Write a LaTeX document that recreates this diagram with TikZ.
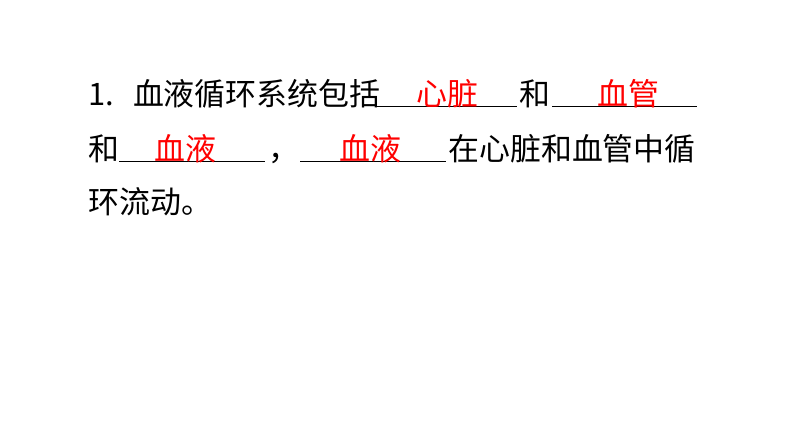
\documentclass[tikz,border=0pt]{standalone}
\usepackage{fontspec}
\newfontfamily\cjk{Noto Sans CJK SC}
\tikzset{
  txt/.style={anchor=base west, inner sep=0pt, font=\cjk\fontsize{22}{26}\selectfont},
  ans/.style={anchor=base, inner sep=0pt, text=red, font=\cjk\fontsize{22}{26}\selectfont},
  blank/.style={line width=0.6pt}
}
\begin{document}
\begin{tikzpicture}[x=0.025cm,y=-0.025cm]
\useasboundingbox[fill=white] (0,0) rectangle (794,447);
% line 1
\node[txt] (l1a) at (88,105) {1.\ \ \,血液循环系统包括};
\draw[blank] (377,106) coordinate (u1s) -- (517,106) coordinate (u1e);
\node[ans] (a1) at (447,105) {心脏};
\node[txt] (l1b) at (519,105) {和};
\draw[blank] (552,106) coordinate (u2s) -- (697,106) coordinate (u2e);
\node[ans] (a2) at (628,105) {血管};
% line 2
\node[txt] (l2a) at (88,160) {和};
\draw[blank] (119,161) coordinate (u3s) -- (265,161) coordinate (u3e);
\node[ans] (a3) at (185,160) {血液};
\node[txt] (l2b) at (268,160) {，};
\draw[blank] (300,161) coordinate (u4s) -- (446,161) coordinate (u4e);
\node[ans] (a4) at (370,160) {血液};
\node[txt] (l2c) at (448,160) {在心脏和血管中循};
% line 3
\node[txt] (l3) at (88,213) {环流动。};
\end{tikzpicture}
\end{document}
